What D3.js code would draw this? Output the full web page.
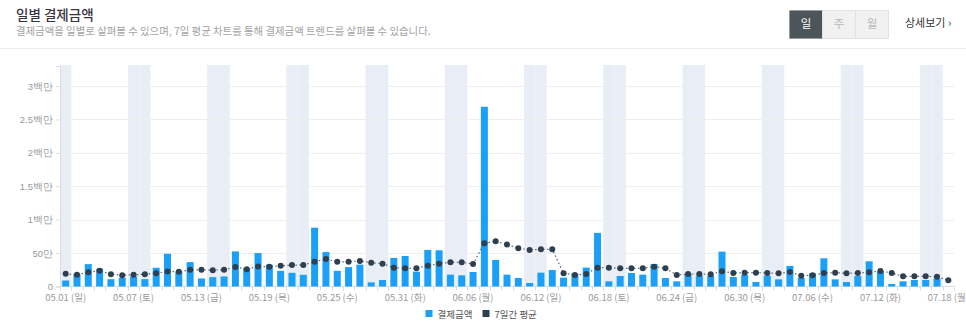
<!DOCTYPE html>
<html><head><meta charset="utf-8">
<script src="https://cdn.jsdelivr.net/npm/d3@7"></script>
<style>
body{margin:0;background:#fff;}
svg{display:block;font-family:"Noto Sans CJK KR","Noto Sans",sans-serif;}
</style></head>
<body><svg id="c" width="966" height="325"></svg>
<script>
const startDate = "2022-05-01";
const endDate = "2022-07-18";
const amounts = [90000,190000,335000,265000,110000,130000,150000,110000,280000,490000,
225000,365000,120000,140000,150000,525000,275000,500000,325000,235000,
205000,175000,880000,515000,235000,290000,327000,62000,97000,427000,
457000,222000,547000,542000,177000,167000,217000,2690000,397000,177000,
127000,52000,207000,247000,132000,192000,282000,802000,77000,157000,
202000,177000,337000,127000,77000,187000,162000,162000,522000,142000,
172000,67000,162000,107000,307000,127000,197000,422000,107000,67000,
157000,377000,227000,37000,77000,97000,97000,117000,0];
const averages = [190000,175000,215000,235000,185000,170000,175000,185000,200000,225000,
220000,250000,250000,245000,250000,290000,260000,300000,295000,310000,
320000,320000,370000,410000,370000,370000,382000,357000,342000,282000,
272000,272000,312000,342000,362000,362000,337000,647000,677000,627000,
572000,547000,557000,557000,197000,172000,187000,282000,282000,272000,
272000,272000,297000,272000,172000,187000,187000,182000,227000,202000,
207000,207000,202000,197000,217000,162000,167000,202000,207000,197000,
202000,212000,232000,202000,152000,152000,152000,147000,92000];
const yTicks = [0,500000,1000000,1500000,2000000,2500000,3000000];
const yTickLabels = ["0","50만","1백만","1.5백만","2백만","2.5백만","3백만"];
const xTickLabels = ["05.01 (일)","05.07 (토)","05.13 (금)","05.19 (목)","05.25 (수)","05.31 (화)","06.06 (월)","06.12 (일)","06.18 (토)","06.24 (금)","06.30 (목)","07.06 (수)","07.12 (화)","07.18 (월)"];
const seriesNames = ["결제금액","7일간 평균"];
const periodButtons = ["일","주","월"];

const parse = d3.timeParse("%Y-%m-%d");
const days = d3.timeDay.range(parse(startDate), d3.timeDay.offset(parse(endDate),1));
const fmt = d3.timeFormat("%m.%d");
const keys = days.map(fmt);

const svg = d3.select("#c");
const W = 966, H = 325;
const m = {l:60, r:12, t:66, b:38.5};

// header
svg.append("text").attr("x",16).attr("y",20).attr("font-size",13.5).attr("font-weight",500)
  .attr("fill","#3a3340").text("일별 결제금액");
svg.append("text").attr("x",16).attr("y",35).attr("font-size",10.4).attr("fill","#a3a3a3")
  .text("결제금액을 일별로 살펴볼 수 있으며, 7일 평균 차트를 통해 결제금액 트렌드를 살펴볼 수 있습니다.");
svg.append("line").attr("x1",0).attr("x2",W).attr("y1",48.5).attr("y2",48.5).attr("stroke","#ececec");

const bx = d3.scaleBand().domain(periodButtons).range([789.5,888.5]);
svg.append("rect").attr("x",789.5).attr("y",10.5).attr("width",99).attr("height",28).attr("fill","#f1f1f1").attr("stroke","#e2e2e2");
periodButtons.forEach((b,i)=>{
  if(i===0) svg.append("rect").attr("x",bx(b)).attr("y",10.5).attr("width",bx.bandwidth()).attr("height",28).attr("fill","#4c5559");
  if(i>0) svg.append("line").attr("x1",bx(b)).attr("x2",bx(b)).attr("y1",10.5).attr("y2",38.5).attr("stroke","#e2e2e2");
  svg.append("text").attr("x",bx(b)+bx.bandwidth()/2).attr("y",28).attr("text-anchor","middle")
    .attr("font-size",11.5).attr("fill",i===0?"#fff":"#b9b9b9").text(b);
});
svg.append("text").attr("x",905).attr("y",27).attr("font-size",11).attr("fill","#333").text("상세보기 ›");

// scales
const x = d3.scaleBand().domain(keys).range([m.l, 954]).padding(0);
const y = d3.scaleLinear().domain([0,3300000]).range([H-m.b, m.t]);

// weekend shading
svg.append("g").selectAll("rect").data(days.filter(d=>d.getDay()===0||d.getDay()===6)).join("rect")
  .attr("x",d=>x(fmt(d))).attr("y",m.t-1).attr("width",x.bandwidth()).attr("height",H-m.b-m.t+1)
  .attr("fill","#e9eef6");

// gridlines
svg.append("g").selectAll("line").data(yTicks.slice(1)).join("line")
  .attr("x1",m.l).attr("x2",954).attr("y1",d=>Math.round(y(d))+0.5).attr("y2",d=>Math.round(y(d))+0.5)
  .attr("stroke","#eeeeee");

// y axis
const yAxis = d3.axisLeft(y).tickValues(yTicks).tickFormat((d,i)=>yTickLabels[i]).tickSize(4).tickPadding(3);
const gy = svg.append("g").attr("transform",`translate(${m.l},0)`).call(yAxis);
gy.select(".domain").attr("stroke","#dcdcdc");
gy.selectAll(".tick line").attr("stroke","#dcdcdc");
gy.selectAll("text").attr("fill","#9a9a9a").attr("font-size",9.5).attr("font-family","inherit");

// x axis: ticks at band boundaries
const xb = d3.scaleLinear().domain([0,keys.length]).range([m.l,954]);
const gx = svg.append("g").attr("transform",`translate(0,${H-m.b})`);
gx.append("line").attr("x1",m.l).attr("x2",954).attr("stroke","#dcdcdc");
gx.selectAll("line.t").data(d3.range(keys.length+1)).join("line").attr("class","t")
  .attr("x1",d=>Math.round(xb(d))+0.5).attr("x2",d=>Math.round(xb(d))+0.5).attr("y1",0).attr("y2",4).attr("stroke","#dcdcdc");
const labelKeys = xTickLabels.map(s=>s.slice(0,5));
gx.selectAll("text").data(xTickLabels).join("text")
  .attr("x",(d,i)=>x(labelKeys[i])+x.bandwidth()/2).attr("y",14.5).attr("text-anchor","middle")
  .attr("font-size",9.5).attr("fill","#9a9a9a").text(d=>d);

// bars
const bw = 7;
svg.append("g").selectAll("rect").data(amounts).join("rect")
  .attr("x",(d,i)=>x(keys[i])+x.bandwidth()/2-bw/2).attr("width",bw)
  .attr("y",d=>y(d)).attr("height",d=>y(0)-y(d)).attr("fill","#1aa0f8");

// average line
const cx = (d,i)=>x(keys[i])+x.bandwidth()/2;
svg.append("path").datum(averages)
  .attr("d",d3.line().x(cx).y(d=>y(d)))
  .attr("fill","none").attr("stroke","#5a6570").attr("stroke-width",1.2).attr("stroke-dasharray","1.5,2.5");
svg.append("g").selectAll("circle").data(averages).join("circle")
  .attr("cx",cx).attr("cy",d=>y(d)).attr("r",3).attr("fill","#2e3f4f");

// legend
const legColors = ["#1aa0f8","#2e3f4f"];
const legX = [425.5,482.5];
seriesNames.forEach((n,i)=>{
  svg.append("rect").attr("x",legX[i]).attr("y",310).attr("width",7).attr("height",7).attr("fill",legColors[i]);
  svg.append("text").attr("x",legX[i]+12).attr("y",317.5).attr("font-size",9.5).attr("fill","#555").text(n);
});
</script></body></html>
